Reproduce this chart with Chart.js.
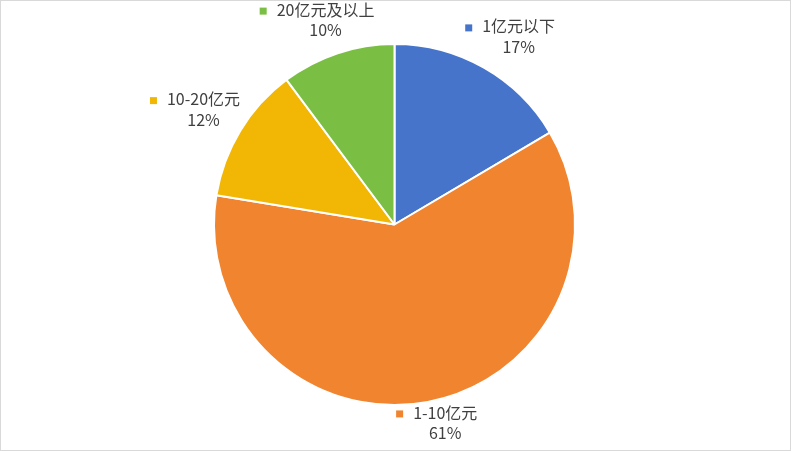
<!DOCTYPE html>
<html>
<head>
<meta charset="utf-8">
<script src="https://cdn.jsdelivr.net/npm/chart.js@4"></script>
<style>
  html, body { margin: 0; padding: 0; background: #fff; }
  #wrap { width: 789px; height: 449px; border: 1px solid #d9d9d9; position: relative; }
  canvas { display: block; }
</style>
</head>
<body>
<div id="wrap"><canvas id="pieChart" width="789" height="449"></canvas></div>
<script>
const categories = ['1亿元以下', '1-10亿元', '10-20亿元', '20亿元及以上'];
const shares = [16.5, 61.1, 12.2, 10.2];
const colors = ['#4674CB', '#F0842F', '#F2B705', '#7ABF43'];

const labelFont = '16px "Noto Sans CJK SC", "Noto Sans", sans-serif';
const textColor = '#404040';

// excel-style outside labels: anchor just outside the slice's mid point,
// box slides around the anchor depending on the direction of the ray
const outsideLabels = {
  id: 'outsideLabels',
  afterDatasetsDraw(chart) {
    const ctx = chart.ctx;
    const meta = chart.getDatasetMeta(0);
    const total = shares.reduce((a, b) => a + b, 0);
    ctx.save();
    ctx.font = labelFont;
    ctx.textBaseline = 'middle';
    meta.data.forEach((arc, i) => {
      const mid = (arc.startAngle + arc.endAngle) / 2;
      const dx = Math.cos(mid), dy = Math.sin(mid);
      const r = arc.outerRadius + 8;
      const px = arc.x + dx * r, py = arc.y + dy * r;
      const tw = ctx.measureText(categories[i]).width;
      const halfW = (7 + 10 + tw) / 2, halfH = 20;
      const cx = px + dx * halfW, cy = py + dy * halfH - 7;
      const left = cx - halfW;
      const y1 = cy - 10, y2 = cy + 10.5;
      ctx.fillStyle = colors[i];
      ctx.fillRect(left, y1 - 2, 7, 7);
      ctx.fillStyle = textColor;
      ctx.textAlign = 'left';
      ctx.fillText(categories[i], left + 17, y1);
      ctx.textAlign = 'center';
      ctx.fillText(Math.round(shares[i] / total * 100) + '%', left + 17 + tw / 2, y2);
    });
    ctx.restore();
  }
};

new Chart(document.getElementById('pieChart'), {
  type: 'pie',
  data: {
    labels: categories,
    datasets: [{
      data: shares,
      backgroundColor: colors,
      borderColor: '#ffffff',
      borderWidth: 2,
    }],
  },
  options: {
    responsive: false,
    animation: false,
    devicePixelRatio: 1,
    layout: { padding: { left: 212, right: 214, top: 42, bottom: 44 } },
    plugins: { legend: { display: false }, tooltip: { enabled: false } },
  },
  plugins: [outsideLabels],
});
</script>
</body>
</html>
